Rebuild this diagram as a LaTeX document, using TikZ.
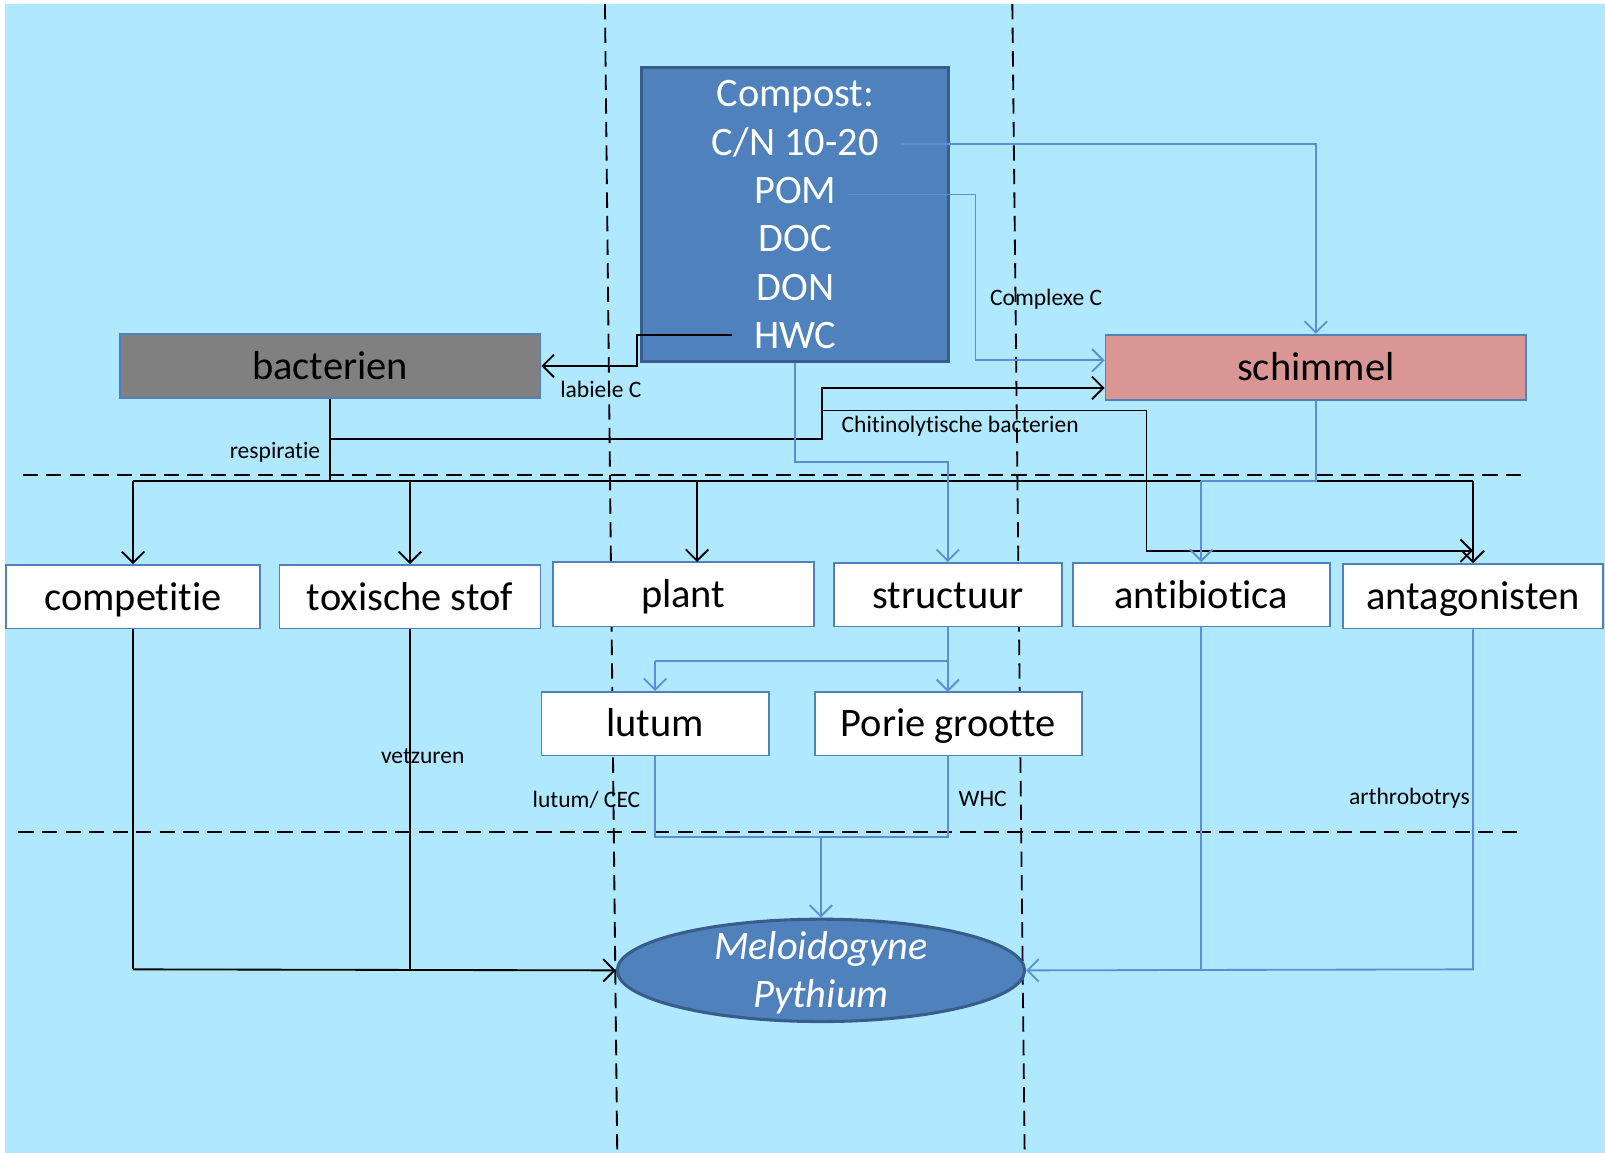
\documentclass[tikz,border=0pt]{standalone}
\usepackage{fontspec}
\setmainfont{Carlito}[Ligatures={NoCommon}]
\usetikzlibrary{arrows.meta,shapes.geometric}
\definecolor{bg}{HTML}{AFE8FF}
\definecolor{cblue}{HTML}{4F81BD}
\definecolor{cdark}{HTML}{385D8A}
\definecolor{cpink}{HTML}{D99694}
\definecolor{cgray}{HTML}{808080}
\definecolor{lblue}{HTML}{5B8ED3}
\begin{document}
\begin{tikzpicture}[x=1pt,y=-1pt,
 box/.style={draw=cblue, line width=1.8pt, fill=white, minimum height=62pt, inner sep=0pt, text height=26pt, text depth=0pt, font=\fontsize{39.5}{47}\selectfont},
 ctext/.style={inner sep=0pt, anchor=base, text=white, font=\fontsize{39.5}{47}\selectfont},
 lbl/.style={font=\fontsize{23}{27}\selectfont, inner sep=0pt},
 bl/.style={line width=1.8pt, black},
 bu/.style={line width=1.8pt, lblue},
 arr/.style={-{Straight Barb[length=11pt,width=22pt]}},
 dsh/.style={line width=1.8pt, black, dash pattern=on 15pt off 8pt}
]
\useasboundingbox (0,0) rectangle (1568,1126);
\fill[white] (0,0) rectangle (1568,1126);
\fill[bg] (5,4) rectangle (1568,1126);
% dashed zone lines
\draw[dsh] (591,4) -- (603,1126);
\draw[dsh] (989,4) -- (1001,1126);
\draw[dsh] (22,464) -- (1492,464);
\draw[dsh] (18,813) -- (1487,813);
% nodes
\node[draw=cdark, line width=3pt, fill=cblue, minimum width=300pt, minimum height=287pt, inner sep=0pt] (comp) at (777,209.5) {};
\node[ctext] (t1) at (777,104.5) {Compost:};
\node[ctext] (cn) at (777,151.5) {C/N 10-20};
\node[ctext] (pom) at (777,198.5) {POM};
\node[ctext] (doc) at (777,245.5) {DOC};
\node[ctext] (don) at (777,293.5) {DON};
\node[ctext] (hwc) at (777,340.5) {HWC};
\node[box, fill=cgray, minimum width=411pt, minimum height=63pt] (bact) at (322.5,357.5) {bacterien};
\node[box, fill=cpink, minimum width=411pt, minimum height=64pt] (schim) at (1285.5,359) {schimmel};
\node[box, minimum width=248pt] (compe) at (130,583) {competitie};
\node[box, minimum width=255pt] (tox) at (400.5,583) {toxische stof};
\node[box, minimum width=255pt, minimum height=63pt] (plant) at (667.5,580.5) {plant};
\node[box, minimum width=223pt] (struct) at (926,581) {structuur};
\node[box, minimum width=251pt] (antib) at (1173.5,581) {antibiotica};
\node[box, minimum width=254pt, minimum height=63pt] (antag) at (1439,582.5) {antagonisten};
\node[box, minimum width=222pt] (lutum) at (640,707) {lutum};
\node[box, minimum width=261pt] (porie) at (926.5,707) {Porie grootte};
\node[ellipse, draw=cdark, line width=3pt, fill=cblue, minimum width=398pt, minimum height=100pt, inner sep=0pt] (ell) at (802,948) {};
\node[inner sep=0pt, anchor=base, text=white, font=\fontsize{39.5}{47}\selectfont\itshape] (mel) at (802,937) {Meloidogyne};
\node[inner sep=0pt, anchor=base, text=white, font=\fontsize{39.5}{47}\selectfont\itshape] (pyth) at (802,984) {Pythium};
% labels
\node[lbl] (l1) at (587,380) {labiele C};
\node[lbl] (l2) at (1022,292) {Complexe C};
\node[lbl] (l3) at (938,416) {Chitinolytische bacterien};
\node[lbl, anchor=east] (l4) at (313,442) {respiratie};
\node[lbl] (l5) at (413,739) {vetzuren};
\node[lbl] (l6) at (573,781) {lutum/ CEC};
\node[lbl] (l7) at (960,781) {WHC};
\node[lbl] (l8) at (1377,780) {arthrobotrys};
% black connectors
\coordinate (hwcl) at (715,327);
\coordinate (b470) at (322.5,470);
\draw[bl,arr] (hwcl) -- (622,327) -- (622,357.5) -- (bact.east);
\draw[bl] (bact.south) -- (b470);
\draw[bl,arr] (322.5,429) -- (803,429) -- (803,379) -- (schim.west |- 0,379);
\draw[bl,arr] (803,401) -- (1120,401) -- (1120,538) -- (1439,538);
\draw[bl] (130,470) -- (1439,470);
\draw[bl,arr] (130,470) -- (compe.north);
\draw[bl,arr] (400.5,470) -- (tox.north);
\draw[bl,arr] (681,470) -- (681,549);
\draw[bl,arr] (1439,470) -- (antag.north);
\draw[bl] (compe.south) -- (130,947);
\draw[bl] (tox.south) -- (400.5,947);
\draw[bl,arr] (130,947) -- (ell.west);
% blue connectors
\coordinate (cnr) at (880,141);
\coordinate (pomr) at (828,190);
\draw[bu,arr] (cnr) -- (1285.5,141) -- (schim.north);
\draw[bu,arr] (pomr) -- (953,190) -- (953,352) -- (schim.west |- 0,352);
\draw[bu,arr] (comp.south) -- (777,451) -- (926,451) -- (struct.north);
\draw[bu] (struct.south) -- (926,646) -- (640,646);
\draw[bu,arr] (640,646) -- (lutum.north);
\draw[bu,arr] (926,646) -- (926,676);
\draw[bu] (lutum.south) -- (640,818) -- (926,818) -- (926,738);
\draw[bu,arr] (802,818) -- (ell.north);
\draw[bu] (schim.south) -- (1285.5,470) -- (1173.5,470);
\draw[bu,arr] (1173.5,470) -- (antib.north);
\draw[bu] (antib.south) -- (1173.5,947);
\draw[bu,arr] (antag.south) -- (1439,947) -- (ell.east);
\end{tikzpicture}
\end{document}
